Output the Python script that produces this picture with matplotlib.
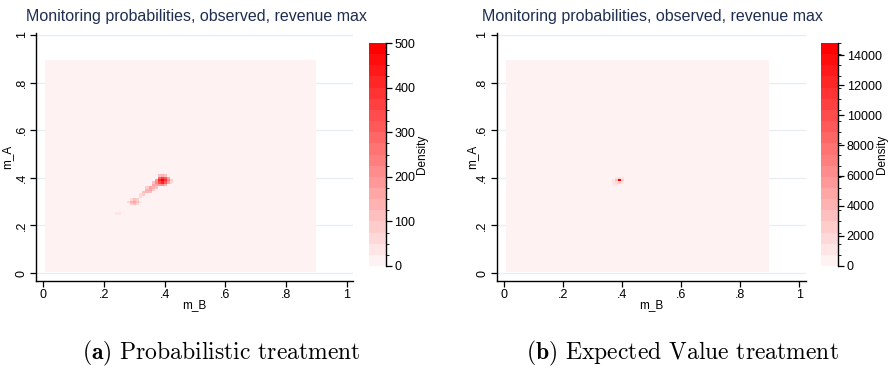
import numpy as np
import matplotlib
matplotlib.use("Agg")
import matplotlib.pyplot as plt
from matplotlib.colors import ListedColormap, BoundaryNorm, to_rgb

# grid of monitoring probabilities (cell centres)
grid_vals = np.round(np.arange(0.01, 0.90, 0.01), 2)

# panel (a) probabilistic treatment: cells above the background level
a_mB = [0.39, 0.38, 0.40, 0.39, 0.39, 0.38, 0.40, 0.38, 0.40, 0.41, 0.37, 0.37, 0.41, 0.41,
        0.39, 0.38, 0.40, 0.39, 0.38, 0.40, 0.36, 0.37, 0.42, 0.42, 0.36,
        0.35, 0.36, 0.34, 0.35, 0.34, 0.33, 0.33, 0.32, 0.35, 0.36, 0.37, 0.34, 0.32,
        0.30, 0.29, 0.31, 0.30, 0.30, 0.29, 0.31, 0.31, 0.29, 0.28, 0.32,
        0.25, 0.24]
a_mA = [0.39, 0.39, 0.39, 0.38, 0.40, 0.38, 0.40, 0.40, 0.38, 0.39, 0.38, 0.39, 0.38, 0.40,
        0.41, 0.41, 0.41, 0.37, 0.37, 0.37, 0.37, 0.37, 0.39, 0.38, 0.38,
        0.36, 0.36, 0.35, 0.35, 0.34, 0.34, 0.33, 0.33, 0.34, 0.35, 0.36, 0.36, 0.32,
        0.30, 0.30, 0.30, 0.29, 0.31, 0.29, 0.31, 0.29, 0.31, 0.30, 0.30,
        0.25, 0.25]
a_dens = [500, 420, 380, 400, 360, 330, 300, 280, 300, 200, 220, 180, 160, 150,
          140, 120, 120, 200, 180, 140, 150, 170, 80, 60, 110,
          150, 140, 140, 160, 130, 110, 90, 70, 100, 90, 100, 80, 50,
          170, 130, 120, 120, 110, 90, 80, 70, 70, 50, 40,
          40, 30]
a_base = 8
a_max = 500
a_ticks = [0, 100, 200, 300, 400, 500]

# panel (b) expected value treatment
b_mB = [0.39, 0.38, 0.40, 0.39, 0.39, 0.38, 0.38, 0.40, 0.40, 0.37, 0.37, 0.37, 0.38]
b_mA = [0.39, 0.39, 0.39, 0.38, 0.40, 0.38, 0.40, 0.40, 0.38, 0.38, 0.39, 0.37, 0.37]
b_dens = [14800, 3000, 2500, 2500, 2000, 1500, 1200, 1000, 1000, 1400, 1100, 1200, 1300]
b_base = 200
b_max = 14800
b_ticks = [0, 2000, 4000, 6000, 8000, 10000, 12000, 14000]

ytick_vals = [0, 0.2, 0.4, 0.6, 0.8, 1]
tick_labels = ["0", ".2", ".4", ".6", ".8", "1"]
title = "Monitoring probabilities, observed, revenue max"
captions = [r"$\mathbf{(a)}$ Probabilistic treatment", r"$\mathbf{(b)}$ Expected Value treatment"]

plt.rcParams['font.family'] = ['Liberation Sans', 'DejaVu Sans']
plt.rcParams['mathtext.fontset'] = 'cm'


def make_grid(mB, mA, dens, base):
    z = np.full((len(grid_vals), len(grid_vals)), float(base))
    for x, y, d in zip(mB, mA, dens):
        z[int(round(y * 100)) - 1, int(round(x * 100)) - 1] = d
    return z


def red_cmap(n):
    c0 = np.array(to_rgb("#fff2f2"))
    c1 = np.array(to_rgb("#ff0000"))
    cols = [c0 + (c1 - c0) * i / (n - 1) for i in range(n)]
    return ListedColormap(cols)


fig = plt.figure(figsize=(8.91, 3.69), dpi=100)
W, H = 891.0, 369.0

panels = [
    dict(ax=(36, 353), xl=(-0.023, 1.0197), cb=(369, 386), lab=422, ylab=13,
         data=(a_mB, a_mA, a_dens, a_base), vmax=a_max, ticks=a_ticks, tx=26, cap=221),
    dict(ax=(496.7, 805.7), xl=(-0.0258, 1.022), cb=(821, 838.3), lab=882, ylab=478,
         data=(b_mB, b_mA, b_dens, b_base), vmax=b_max, ticks=b_ticks, tx=482, cap=682),
]

for i, p in enumerate(panels):
    l, r = p['ax']
    ax_h = 281 - 32.6
    ax = fig.add_axes([l / W, 1 - 281 / H, (r - l) / W, ax_h / H])
    z = make_grid(*p['data'])
    cmap = red_cmap(20)
    norm = BoundaryNorm(np.linspace(0, p['vmax'], 21), 20)
    h = 0.005
    im = ax.imshow(z, origin='lower', cmap=cmap, norm=norm, interpolation='nearest',
                   extent=[grid_vals[0] - h, grid_vals[-1] + h, grid_vals[0] - h, grid_vals[-1] + h],
                   aspect='auto', zorder=2)
    ax.set_xlim(*p['xl'])
    ax.set_ylim(-0.0336, 1.01)
    for yv in ytick_vals:
        ax.axhline(yv, color='#e6eef0', lw=0.9, zorder=1)
    for s in ['top', 'right']:
        ax.spines[s].set_visible(False)
    ax.spines['left'].set_linewidth(1.0)
    ax.spines['bottom'].set_linewidth(1.0)
    ax.set_xticks(ytick_vals)
    ax.set_xticklabels(tick_labels)
    ax.set_yticks(ytick_vals)
    ax.set_yticklabels(tick_labels, rotation=90, va='center')
    ax.tick_params(direction='out', length=4, width=0.9, labelsize=9, pad=2)
    ax.set_xlabel("m_B", fontsize=8.5)
    ax.set_ylabel("m_A", fontsize=8.5)
    ax.xaxis.set_label_coords(0.5, (281 - 299) / ax_h)
    ax.yaxis.set_label_coords((p['ylab'] - l) / (r - l), 0.5)

    c0, c1 = p['cb']
    cax = fig.add_axes([c0 / W, 1 - 266 / H, (c1 - c0) / W, 223 / H])
    cb = fig.colorbar(im, cax=cax, ticks=p['ticks'])
    cb.outline.set_visible(False)
    cax.plot([1, 1], [0, 1], transform=cax.transAxes, color='k', lw=1.0, clip_on=False)
    cax.tick_params(direction='out', length=4, width=0.9, labelsize=9, pad=2)
    fig.text(p['lab'] / W, 1 - 154 / H, "Density", rotation=90, fontsize=8.5,
             ha='center', va='center')

    fig.text(p['tx'] / W, 1 - 17 / H, title, fontsize=11.5, color='#1e2d52',
             ha='left', va='center')
    fig.text(p['cap'] / W, 1 - 353 / H, captions[i], fontsize=17, family='cmr10',
             ha='center', va='center')

fig.savefig("out.png", dpi=100)
